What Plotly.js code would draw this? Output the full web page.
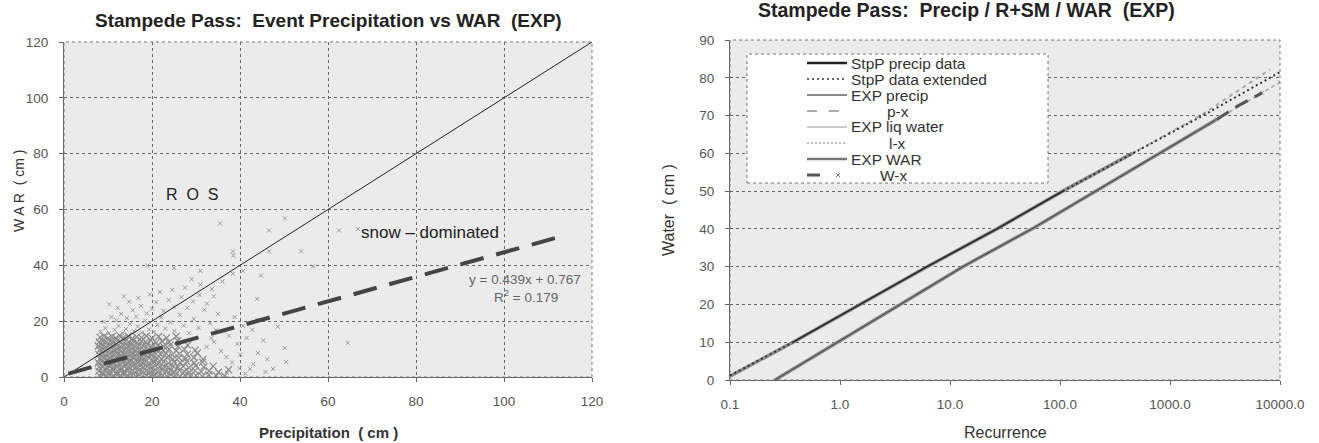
<!DOCTYPE html>
<html><head><meta charset="utf-8">
<script src="https://cdn.plot.ly/plotly-3.0.1.min.js"></script>
<style>html,body{margin:0;padding:0;background:#fff}#chart{width:1319px;height:443px}</style>
</head><body><div id="chart"></div>
<script>
// ---------- LEFT CHART DATA: event precipitation vs WAR (cm) ----------
// dense block of events (precip 8-37 cm, WAR 0-15 cm)
const corePrecipX = [
 8.1,8.9,9.6,10.4,11.2,12.1,12.9,13.7,14.6,15.4,16.3,17.1,18.0,18.8,19.7,20.6,21.5,22.4,23.4,24.3,25.3,26.4,27.5,28.7,30.0,31.4,32.9,34.6,36.5,
 7.9,8.7,9.5,10.3,11.1,11.9,12.8,13.6,14.4,15.3,16.1,17.0,17.8,18.7,19.5,20.4,21.3,22.3,23.2,24.2,25.1,26.2,27.3,28.5,29.8,31.2,33.0,35.1,37.4,
 8.0,8.8,9.7,10.5,11.3,12.2,13.0,13.9,14.7,15.6,16.4,17.3,18.1,19.0,19.9,20.8,21.8,22.7,23.7,24.8,25.9,27.1,28.4,29.9,31.8,33.9,
 7.8,8.6,9.4,10.2,11.0,11.9,12.7,13.5,14.4,15.2,16.1,16.9,17.8,18.6,19.5,20.5,21.5,22.6,23.8,25.0,26.4,27.9,29.6,31.5,
 8.2,9.0,9.8,10.6,11.5,12.3,13.1,14.0,14.8,15.7,16.5,17.4,18.2,19.1,20.1,21.1,22.2,23.4,24.7,26.1,27.7,29.5,31.6,
 7.9,8.7,9.5,10.4,11.2,12.0,12.9,13.7,14.5,15.4,16.2,17.1,18.0,18.9,19.9,20.9,22.0,23.2,24.6,26.2,28.0,30.3,
 8.1,8.9,9.7,10.5,11.4,12.2,13.0,13.9,14.7,15.6,16.4,17.3,18.2,19.2,20.2,21.3,22.5,23.9,25.5,27.4,29.8,
 7.8,8.6,9.4,10.3,11.1,11.9,12.8,13.6,14.5,15.3,16.2,17.1,18.0,19.0,20.1,21.3,22.6,24.1,25.9,28.1,
 8.0,8.8,9.6,10.5,11.3,12.2,13.0,13.9,14.8,15.7,16.6,17.6,18.6,19.7,20.9,22.3,23.9,25.8,
 8.2,9.1,10.0,10.9,11.8,12.7,13.6,14.6,15.5,16.5,17.6,18.7,20.0,21.5,23.3,25.5
];
const coreWarY = [
 0.4,0.9,0.3,0.7,0.2,0.8,0.4,0.9,0.3,0.6,0.2,0.8,0.4,0.7,0.3,0.8,0.4,0.6,0.3,0.9,0.5,0.2,0.7,0.4,0.6,0.3,0.8,0.5,0.4,
 2.1,1.7,2.4,1.9,2.5,1.6,2.2,1.8,2.6,2.0,1.7,2.4,1.9,2.3,1.6,2.2,1.8,2.5,1.9,2.3,1.7,2.4,2.0,1.6,2.3,1.9,2.2,1.7,2.6,
 3.6,3.9,3.4,4.0,3.5,3.8,3.3,4.1,3.6,3.9,3.4,4.0,3.5,3.8,3.3,4.1,3.6,3.9,3.4,4.0,3.5,3.8,3.3,4.0,3.6,3.9,
 5.1,5.5,4.9,5.4,5.0,5.6,4.8,5.3,5.0,5.5,4.9,5.4,5.1,5.6,4.8,5.3,5.0,5.5,4.9,5.4,5.1,5.6,5.0,5.3,
 6.6,7.0,6.4,6.9,6.5,7.1,6.3,6.8,6.5,7.0,6.4,6.9,6.6,7.1,6.3,6.8,6.5,7.0,6.4,6.9,6.6,7.0,6.4,
 8.1,8.5,7.9,8.4,8.0,8.6,7.8,8.3,8.0,8.5,7.9,8.4,8.1,8.6,7.8,8.3,8.0,8.5,7.9,8.4,8.1,8.6,
 9.6,10.0,9.4,9.9,9.5,10.1,9.3,9.8,9.5,10.0,9.4,9.9,9.6,10.1,9.3,9.8,9.5,10.0,9.4,9.9,9.6,
 11.1,11.5,10.9,11.4,11.0,11.6,10.8,11.3,11.0,11.5,10.9,11.4,11.1,11.6,10.8,11.3,11.0,11.5,10.9,11.4,
 12.6,13.0,12.4,12.9,12.5,13.1,12.3,12.8,12.5,13.0,12.4,12.9,12.6,13.1,12.3,12.8,12.5,13.0,
 14.2,14.7,13.9,14.5,14.0,14.8,14.1,14.6,13.8,14.4,14.1,14.7,13.9,14.5,14.0,14.6
];
// scattered events around the block and outliers
const sparsePrecipX = [
 8.3,9.4,10.2,11.5,12.4,13.3,14.1,15.0,15.9,16.8,17.7,18.5,19.3,20.4,21.2,22.1,23.0,24.2,25.1,26.3,27.2,28.4,29.5,30.6,31.9,33.2,34.6,
 9.0,10.8,11.9,13.0,14.3,15.6,16.4,17.5,18.8,20.0,21.0,22.6,23.8,25.0,26.7,28.0,29.3,30.8,32.5,34.0,
 12.2,14.8,16.9,19.5,21.8,24.6,27.5,31.0,33.6,29.0,36.0,10.3,13.6,
 32.4,34.1,35.7,36.9,38.2,39.4,40.7,41.5,42.3,43.0,44.1,45.3,46.2,47.5,48.6,50.2,50.5,36.3,38.8,37.5,40.1,42.8,35.0,39.9,44.0,33.5,37.0,41.2,45.8,
 35.5,50.2,46.6,46.6,53.9,56.6,62.5,66.8,44.8,43.9,38.4,38.5,38.4,40.7,64.5,19.0,25.0,31.0
];
const sparseWarY = [
 16.2,17.5,15.8,16.9,18.3,15.6,17.2,19.0,16.4,18.1,15.9,20.2,17.0,16.1,18.7,21.4,17.3,19.6,16.5,22.3,18.4,15.7,20.8,17.6,24.1,19.3,16.8,
 19.8,21.5,20.3,22.6,21.1,23.9,21.7,25.4,22.8,24.5,26.8,23.7,27.5,25.2,28.6,24.8,27.1,29.4,26.3,28.9,
 24.8,27.0,28.3,29.6,30.5,31.2,32.0,33.1,31.5,35.0,34.2,26.0,28.9,
 10.8,12.6,9.3,7.1,5.2,11.9,18.3,14.0,2.9,4.7,8.6,13.1,6.4,2.9,18.0,10.4,5.4,16.4,21.5,14.8,8.0,16.9,22.6,3.1,20.5,13.9,1.5,1.2,1.8,
 55.0,56.8,52.5,45.0,45.0,39.6,52.5,53.0,36.3,28.0,45.0,43.5,37.0,38.0,12.2,40.0,39.0,38.0
];
const rosX = [0, 120];
const rosY = [0, 120];
const trendX = [1, 114];
const trendY = [1.21, 50.81];
const leftXTicks = [0, 20, 40, 60, 80, 100, 120];
const leftYTicks = [0, 20, 40, 60, 80, 100, 120];

// ---------- RIGHT CHART DATA: water (cm) vs recurrence ----------
const stppDataT = [0.374, 1.52, 6.2, 26.7, 106];
const stppDataW = [10, 20, 30, 40, 50];
const stppExtT = [0.1, 0.374, null, 106, 457, 1995, 10000];
const stppExtW = [1.2, 10, null, 50, 60, 70, 81.5];
const expPrecipT = [0.1, 0.374, 1.52, 6.2, 26.7, 106, 457];
const expPrecipW = [1.0, 10, 20, 30, 40, 50, 60];
const pxT = [457, 1995, 8100];
const pxW = [60, 70.4, 82.2];
const liqT = [0.256, 0.96, 3.5, 13.1, 55.6, 811, 2673];
const liqW = [0, 10, 20, 30, 40, 60, 69];
const lxT = [2673, 6860, 10000];
const lxW = [69, 76, 78.8];
const warT = [0.256, 0.96, 3.5, 13.1, 55.6, 811, 2673];
const warW = [0, 10, 20, 30, 40, 60, 69];
const wxT = [2673, 4000, 6860];
const wxW = [69, 72.3, 76];
const recTickVals = [0.1, 1, 10, 100, 1000, 10000];
const recTickText = ['0.1', '1.0', '10.0', '100.0', '1000.0', '10000.0'];
const legendNames = ['StpP precip data', 'StpP data extended', 'EXP precip', 'p-x', 'EXP liq water', 'l-x', 'EXP WAR', 'W-x'];

// ---------- geometry helpers (pixels -> paper) ----------
const W = 1319, H = 443;
const px = v => v / W;
const py = v => 1 - v / H;
const L = {x0: 64, x1: 592, top: 42, bot: 377};
const R = {x0: 730, x1: 1280, top: 40, bot: 380};
const FONT = 'Liberation Sans, Arial, sans-serif';

const traces = [
  {x: corePrecipX, y: coreWarY, xaxis: 'x', yaxis: 'y', type: 'scatter', mode: 'markers', name: 'events',
   marker: {symbol: 'x-thin', size: 7, color: '#8a8a8a', line: {width: 1.2, color: '#8a8a8a'}}},
  {x: sparsePrecipX, y: sparseWarY, xaxis: 'x', yaxis: 'y', type: 'scatter', mode: 'markers', name: 'events ',
   marker: {symbol: 'x-thin', size: 4, color: '#999', line: {width: 1, color: '#999'}}},
  {x: rosX, y: rosY, xaxis: 'x', yaxis: 'y', type: 'scatter', mode: 'lines', name: '1:1',
   line: {color: '#222', width: 1}},
  {x: trendX, y: trendY, xaxis: 'x', yaxis: 'y', type: 'scatter', mode: 'lines', name: 'trend',
   line: {color: '#444', width: 4, dash: '24px,13px'}},

  {x: expPrecipT, y: expPrecipW, xaxis: 'x2', yaxis: 'y2', mode: 'lines', name: legendNames[2],
   line: {color: '#8a8a8a', width: 3.5}},
  {x: pxT, y: pxW, xaxis: 'x2', yaxis: 'y2', mode: 'lines', name: legendNames[3],
   line: {color: '#aaa', width: 2, dash: '4px,4px'}},
  {x: stppExtT, y: stppExtW, xaxis: 'x2', yaxis: 'y2', mode: 'lines', name: legendNames[1],
   line: {color: '#333', width: 2, dash: '2px,3px'}, connectgaps: false},
  {x: stppDataT, y: stppDataW, xaxis: 'x2', yaxis: 'y2', mode: 'lines', name: legendNames[0],
   line: {color: '#222', width: 1.5}},
  {x: warT, y: warW, xaxis: 'x2', yaxis: 'y2', mode: 'lines', name: legendNames[6],
   line: {color: '#8a8a8a', width: 3.5}},
  {x: liqT, y: liqW, xaxis: 'x2', yaxis: 'y2', mode: 'lines', name: legendNames[4],
   line: {color: '#444', width: 1}},
  {x: lxT, y: lxW, xaxis: 'x2', yaxis: 'y2', mode: 'lines+markers', name: legendNames[5],
   line: {color: '#aaa', width: 1.5, dash: '4px,3px'}, marker: {symbol: 'x-thin', size: 4, line: {width: 1, color: '#999'}}},
  {x: wxT, y: wxW, xaxis: 'x2', yaxis: 'y2', mode: 'lines', name: legendNames[7],
   line: {color: '#555', width: 3, dash: '14px,8px'}}
];

const tickFont = {family: FONT, size: 13.5, color: '#555'};
const gridStyle = {gridcolor: '#666', gridwidth: 1, griddash: 'dot'};
const axisCommon = {showline: true, linecolor: '#666', ticks: 'outside', ticklen: 4, tickcolor: '#666',
  zeroline: false, tickfont: tickFont};

const layout = {
  width: W, height: H,
  margin: {l: 0, r: 0, t: 0, b: 0},
  paper_bgcolor: '#fff',
  plot_bgcolor: '#ebebeb',
  showlegend: false,
  font: {family: FONT, color: '#333'},
  xaxis: Object.assign({domain: [px(L.x0), px(L.x1)], anchor: 'y', range: [0, 120], tickvals: leftXTicks,
    showgrid: true, ticklabelstandoff: 8}, axisCommon, gridStyle),
  yaxis: Object.assign({domain: [py(L.bot), py(L.top)], anchor: 'x', range: [0, 120], tickvals: leftYTicks,
    showgrid: true, ticklabelstandoff: 8}, axisCommon, gridStyle),
  xaxis2: Object.assign({domain: [px(R.x0), px(R.x1)], anchor: 'y2', type: 'log', range: [-1, 4],
    tickvals: recTickVals, ticktext: recTickText, showgrid: false, ticklabelstandoff: 8}, axisCommon),
  yaxis2: Object.assign({domain: [py(R.bot), py(R.top)], anchor: 'x2', range: [0, 90], dtick: 10,
    showgrid: true, ticklabelstandoff: 8}, axisCommon, gridStyle),
  shapes: [],
  annotations: []
};

// plot-area borders (dotted)
layout.shapes.push({type: 'rect', xref: 'x domain', yref: 'y domain', x0: 0, x1: 1, y0: 0, y1: 1,
  line: {color: '#777', width: 1, dash: 'dot'}});
layout.shapes.push({type: 'rect', xref: 'x2 domain', yref: 'y2 domain', x0: 0, x1: 1, y0: 0, y1: 1,
  line: {color: '#777', width: 1, dash: 'dot'}});

// legend box for right chart
const LB = {x0: 747, x1: 1048, y0: 54, y1: 183};
layout.shapes.push({type: 'rect', xref: 'paper', yref: 'paper', x0: px(LB.x0), x1: px(LB.x1), y0: py(LB.y1), y1: py(LB.y0),
  fillcolor: '#fff', line: {color: '#777', width: 1, dash: 'dot'}, layer: 'above'});
const legendStyles = [
  {color: '#222', width: 2.5},
  {color: '#333', width: 1.5, dash: '2px,3px'},
  {color: '#8a8a8a', width: 2},
  {color: '#aaa', width: 2, dash: '10px,12px'},
  {color: '#999', width: 1},
  {color: '#aaa', width: 1.5, dash: '2px,2px'},
  {color: '#777', width: 2.5},
  {color: '#555', width: 3}
];
const legendTextX = [849, 849, 849, 885, 849, 887, 849, 878];
for (let i = 0; i < legendNames.length; i++) {
  const yy = 63 + 16 * i;
  const x1 = (i === 7) ? 820 : 847;
  layout.shapes.push({type: 'line', xref: 'paper', yref: 'paper', x0: px(807), x1: px(x1), y0: py(yy), y1: py(yy),
    line: legendStyles[i], layer: 'above'});
  layout.annotations.push({xref: 'paper', yref: 'paper', x: px(legendTextX[i]), y: py(yy), xanchor: 'left', yanchor: 'middle',
    text: legendNames[i], showarrow: false, font: {family: FONT, size: 15.5, color: '#333'}});
}
layout.shapes.push({type: 'line', xref: 'paper', yref: 'paper', x0: px(836), x1: px(840), y0: py(173), y1: py(177), line: {color: '#777', width: 1}, layer: 'above'});
layout.shapes.push({type: 'line', xref: 'paper', yref: 'paper', x0: px(836), x1: px(840), y0: py(177), y1: py(173), line: {color: '#777', width: 1}, layer: 'above'});

// titles
const ann = layout.annotations;
ann.push({xref: 'paper', yref: 'paper', x: px(328), y: py(21), xanchor: 'center', yanchor: 'middle', showarrow: false,
  text: '<b>Stampede Pass:\u00a0 Event Precipitation vs WAR\u00a0 (EXP)</b>', font: {family: FONT, size: 19, color: '#222'}});
ann.push({xref: 'paper', yref: 'paper', x: px(966), y: py(10), xanchor: 'center', yanchor: 'middle', showarrow: false,
  text: '<b>Stampede Pass:\u00a0 Precip / R+SM / WAR\u00a0 (EXP)</b>', font: {family: FONT, size: 19.5, color: '#222'}});
// axis titles
ann.push({xref: 'paper', yref: 'paper', x: px(328), y: py(432), xanchor: 'center', yanchor: 'middle', showarrow: false,
  text: '<b>Precipitation\u00a0 ( cm )</b>', font: {family: FONT, size: 15, color: '#333'}});
ann.push({xref: 'paper', yref: 'paper', x: px(19), y: py(191), xanchor: 'center', yanchor: 'middle', showarrow: false, textangle: -90,
  text: 'W A R\u00a0 ( cm )', font: {family: FONT, size: 14, color: '#333'}});
ann.push({xref: 'paper', yref: 'paper', x: px(1005), y: py(432), xanchor: 'center', yanchor: 'middle', showarrow: false,
  text: 'Recurrence', font: {family: FONT, size: 16, color: '#333'}});
ann.push({xref: 'paper', yref: 'paper', x: px(668), y: py(210), xanchor: 'center', yanchor: 'middle', showarrow: false, textangle: -90,
  text: 'Water\u00a0 ( cm )', font: {family: FONT, size: 16, color: '#333'}});
// in-plot labels (left chart)
ann.push({xref: 'x', yref: 'y', x: 29.2, y: 65.4, showarrow: false, text: 'R\u00a0 O\u00a0 S',
  font: {family: FONT, size: 16, color: '#222'}});
ann.push({xref: 'x', yref: 'y', x: 83.2, y: 51.9, showarrow: false, text: 'snow \u2013 dominated',
  font: {family: FONT, size: 17, color: '#222'}});
ann.push({xref: 'x', yref: 'y', x: 104.8, y: 34.9, showarrow: false, text: 'y = 0.439x + 0.767',
  font: {family: FONT, size: 13.5, color: '#666'}});
ann.push({xref: 'x', yref: 'y', x: 105, y: 29.1, showarrow: false, text: 'R<sup>2</sup> = 0.179',
  font: {family: FONT, size: 13.5, color: '#666'}});

Plotly.newPlot('chart', traces, layout, {staticPlot: true, displayModeBar: false});
</script>
</body></html>
